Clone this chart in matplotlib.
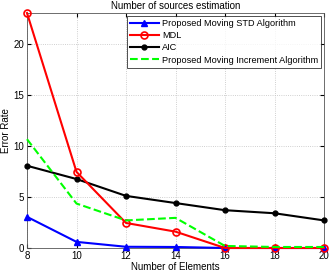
import matplotlib
matplotlib.use("Agg")
import matplotlib.pyplot as plt

x = [8, 10, 12, 14, 16, 18, 20]
std_alg = [3.05, 0.6, 0.12, 0.1, 0.0, 0.0, 0.0]
mdl = [23.0, 7.45, 2.45, 1.6, 0.0, 0.0, 0.0]
aic = [8.05, 6.75, 5.1, 4.4, 3.7, 3.4, 2.7]
inc_alg = [10.65, 4.35, 2.7, 2.95, 0.2, 0.1, 0.1]

plt.rcParams['font.family'] = ['Liberation Sans', 'DejaVu Sans']
fig = plt.figure(figsize=(3.32, 2.75), dpi=100)
ax = fig.add_axes([27/332, 27/275, (324-27)/332, (248-13)/275])

ax.plot(x, std_alg, color='blue', lw=1.5, marker='^', ms=5, label='Proposed Moving STD Algorithm', clip_on=False, zorder=3)
ax.plot(x, mdl, color='red', lw=1.5, marker='o', ms=5, mfc='none', mew=1.2, label='MDL', clip_on=False, zorder=4)
ax.plot(x, aic, color='black', lw=1.5, marker='o', ms=3.5, label='AIC', clip_on=False, zorder=3)
ax.plot(x, inc_alg, color='#00ff00', lw=1.5, ls='--', label='Proposed Moving Increment Algorithm', clip_on=False, zorder=5)

ax.set_xlim(8, 20)
ax.set_ylim(0, 23)
ax.set_xticks(x)
ax.set_yticks([0, 5, 10, 15, 20])
ax.tick_params(direction='in', labelsize=7, length=3, top=True, right=True, pad=2)
ax.grid(True, ls=':', color='#c0c0c0', lw=0.6)
for s in ax.spines.values():
    s.set_linewidth(0.6)
    s.set_color('#555555')
ax.set_xlabel('Number of Elements', fontsize=7, labelpad=1)
ax.set_ylabel('Error Rate', fontsize=7, labelpad=2)
ax.set_title('Number of sources estimation', fontsize=7, pad=3)
leg = ax.legend(loc='upper right', fontsize=6.6, fancybox=False, edgecolor='black',
                handlelength=3.2, borderaxespad=0.3, labelspacing=0.35, borderpad=0.35,
                handletextpad=0.3)
leg.get_frame().set_linewidth(0.6)
fig.savefig('out.png', dpi=100)
